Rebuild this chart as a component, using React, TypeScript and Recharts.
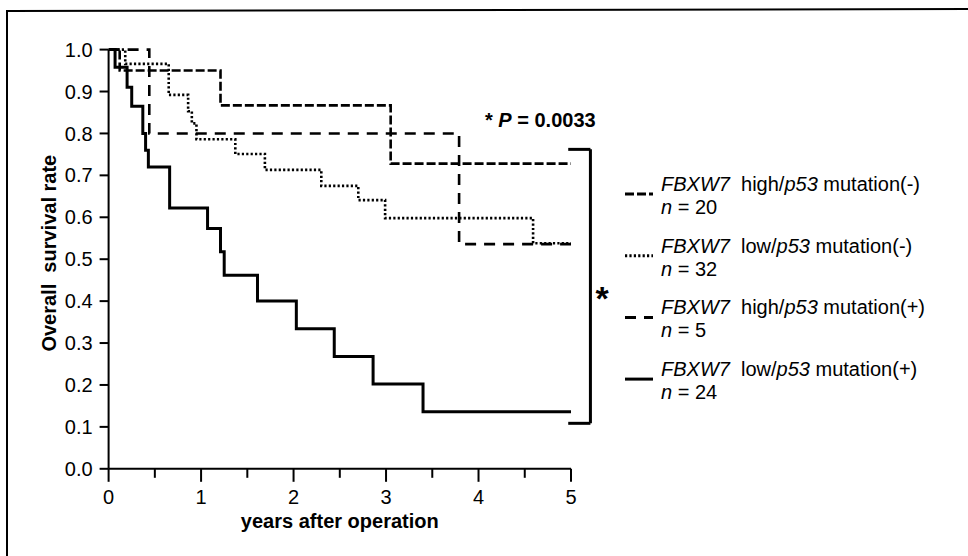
import React from 'react';
import { LineChart, Line, XAxis, YAxis, ReferenceLine } from 'recharts';

// ---- data ----
const highNegTimes = [0, 0.12, 1.21, 3.05, 5.0];
const highNegSurv = [1, 0.95, 0.867, 0.728, 0.728];

const lowNegTimes = [0, 0.18, 0.65, 0.86, 0.9, 0.95, 1.37, 1.69, 2.3, 2.7, 2.99, 4.59, 5.0];
const lowNegSurv = [1, 0.966, 0.892, 0.853, 0.824, 0.786, 0.751, 0.713, 0.675, 0.641, 0.598, 0.538, 0.538];

const highPosTimes = [0, 0.44, 3.79, 5.0];
const highPosSurv = [1, 0.8, 0.536, 0.536];

const lowPosTimes = [0, 0.07, 0.2, 0.25, 0.37, 0.4, 0.43, 0.66, 1.07, 1.21, 1.25, 1.61, 2.03, 2.44, 2.86, 3.4, 5.0];
const lowPosSurv = [1, 0.958, 0.91, 0.865, 0.8, 0.76, 0.72, 0.622, 0.573, 0.518, 0.462, 0.4, 0.334, 0.268, 0.202, 0.136, 0.136];

const xTicks = [0, 0.5, 1, 1.5, 2, 2.5, 3, 3.5, 4, 4.5, 5];
const yTicks = [0, 0.1, 0.2, 0.3, 0.4, 0.5, 0.6, 0.7, 0.8, 0.9, 1.0];

const seriesNames = ['high', 'low', 'high', 'low'];
const seriesMutation = ['(-)', '(-)', '(+)', '(+)'];
const seriesN = [20, 32, 5, 24];

const bracketTop = 0.762;
const bracketBottom = 0.1085;
const bracketX = 5.21;
const bracketLeft = 4.97;
const pValue = '0.0033';

const FONT = '"Liberation Sans", Arial, Helvetica, sans-serif';

const toData = (t: number[], s: number[]) => t.map((v, i) => ({ t: v, s: s[i] }));

const styles = [
  { dash: '9 3', width: 2.6 },
  { dash: '2.2 2.2', width: 2.6 },
  { dash: '11 8', width: 2.6 },
  { dash: undefined, width: 3 },
];

const XTick = (props: any) => {
  const { x, y, payload } = props;
  const v = payload.value;
  const major = Number.isInteger(v);
  return (
    <g>
      <line x1={x} y1={y} x2={x} y2={y + (major ? 13 : 9)} stroke="#000" strokeWidth={2} />
      {major && (
        <text x={x} y={y + 35} textAnchor="middle" fontSize={20} fontFamily={FONT} fill="#000">
          {v}
        </text>
      )}
    </g>
  );
};

const XTitle = (props: any) => {
  const vb = props.viewBox || {};
  return (
    <text x={vb.x + vb.width / 2} y={528} textAnchor="middle" fontSize={20} fontWeight="bold" fontFamily={FONT} fill="#000">
      years after operation
    </text>
  );
};

const YTitle = (props: any) => {
  const vb = props.viewBox || {};
  const cx = 49;
  const cy = vb.y + vb.height / 2 - 6;
  return (
    <text
      x={cx}
      y={cy}
      transform={`rotate(-90 ${cx} ${cy})`}
      textAnchor="middle"
      dominantBaseline="central"
      fontSize={20}
      fontWeight="bold"
      fontFamily={FONT}
      fill="#000"
      style={{ whiteSpace: 'pre' }}
    >
      {'Overall\u00a0\u00a0survival rate'}
    </text>
  );
};

const LegendBlock = () => (
  <g transform="translate(620,165)">
    {seriesN.map((n, i) => {
      const cy = 19 + i * 61.7;
      const st = styles[i];
      return (
        <g key={i}>
          <line x1={5} y1={cy + 10} x2={33} y2={cy + 10} stroke="#000" strokeWidth={3} strokeDasharray={st.dash} />
          <text x={41} y={cy + 7} fontSize={20} fontFamily={FONT} fill="#000" style={{ whiteSpace: 'pre' }}>
            <tspan fontStyle="italic">FBXW7</tspan>
            <tspan>{`\u00a0\u00a0${seriesNames[i]}/`}</tspan>
            <tspan fontStyle="italic">p53</tspan>
            <tspan>{` mutation${seriesMutation[i]}`}</tspan>
          </text>
          <text x={41} y={cy + 30} fontSize={20} fontFamily={FONT} fill="#000">
            <tspan fontStyle="italic">n</tspan>
            <tspan>{` = ${n}`}</tspan>
          </text>
        </g>
      );
    })}
  </g>
);

export default function App() {
  const data = [
    toData(highNegTimes, highNegSurv),
    toData(lowNegTimes, lowNegSurv),
    toData(highPosTimes, highPosSurv),
    toData(lowPosTimes, lowPosSurv),
  ];
  return (
    <div style={{ position: 'absolute', left: 0, top: 0, width: 968, height: 556, background: '#fff', fontFamily: FONT }}>
      <svg width={968} height={556} style={{ position: 'absolute', left: 0, top: 0 }}>
        <line x1={7} y1={11} x2={968} y2={9} stroke="#000" strokeWidth={2} />
        <line x1={7} y1={10} x2={7} y2={556} stroke="#000" strokeWidth={2} />
      </svg>
      <div style={{ position: 'absolute', left: 0, top: 0 }}>
        <LineChart width={968} height={556} margin={{ top: 49.6, right: 397, bottom: 27.2, left: 48.6 }}>
          <XAxis
            dataKey="t"
            type="number"
            domain={[0, 5]}
            ticks={xTicks}
            interval={0}
            allowDataOverflow
            height={60}
            tickSize={0}
            tickMargin={0}
            tickLine={false}
            tick={<XTick />}
            axisLine={{ stroke: '#000', strokeWidth: 2 }}
            label={<XTitle />}
          />
          <YAxis
            type="number"
            domain={[0, 1]}
            ticks={yTicks}
            interval={0}
            width={60}
            tickSize={9}
            tickMargin={7}
            tickFormatter={(v: number) => v.toFixed(1)}
            tick={{ fontSize: 20, fill: '#000', fontFamily: FONT }}
            tickLine={{ stroke: '#000', strokeWidth: 2 }}
            axisLine={{ stroke: '#000', strokeWidth: 2 }}
            label={<YTitle />}
          />
          {data.map((d, i) => (
            <Line
              key={i}
              data={d}
              dataKey="s"
              type="stepAfter"
              stroke="#000"
              strokeWidth={styles[i].width}
              strokeDasharray={styles[i].dash}
              dot={false}
              activeDot={false}
              isAnimationActive={false}
            />
          ))}
          <ReferenceLine
            segment={[{ x: bracketX, y: bracketBottom }, { x: bracketX, y: bracketTop }]}
            stroke="#000"
            strokeWidth={3}
            ifOverflow="visible"
          />
          <ReferenceLine
            segment={[{ x: bracketLeft, y: bracketTop }, { x: bracketX, y: bracketTop }]}
            stroke="#000"
            strokeWidth={3}
            ifOverflow="visible"
          />
          <ReferenceLine
            segment={[{ x: bracketLeft, y: bracketBottom }, { x: bracketX, y: bracketBottom }]}
            stroke="#000"
            strokeWidth={3}
            ifOverflow="visible"
          />
        </LineChart>
      </div>
      <svg width={968} height={556} style={{ position: 'absolute', left: 0, top: 0, pointerEvents: 'none' }}>
        <LegendBlock />
        <text x={485} y={127} fontSize={20} fontWeight="bold" fontFamily={FONT} fill="#000" style={{ whiteSpace: 'pre' }}>
          <tspan>{'* '}</tspan>
          <tspan fontStyle="italic">P</tspan>
          <tspan>{` = ${pValue}`}</tspan>
        </text>
        <text x={602} y={310} textAnchor="middle" fontSize={34} fontWeight="bold" fontFamily={FONT} fill="#000">
          *
        </text>
      </svg>
    </div>
  );
}
